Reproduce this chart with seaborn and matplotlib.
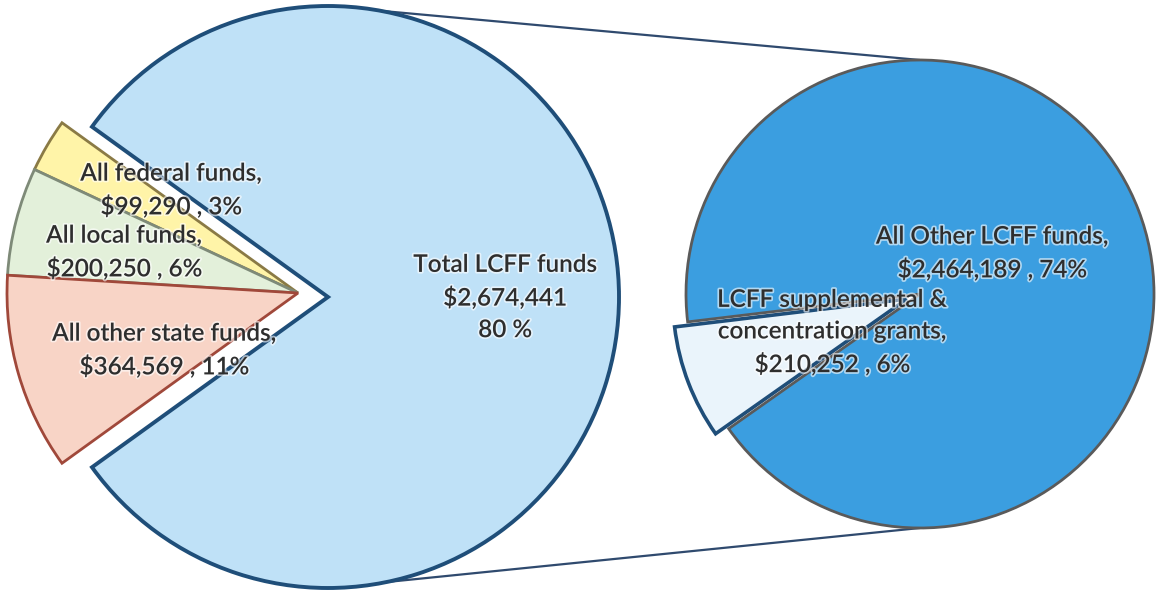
import numpy as np
import matplotlib
matplotlib.use("Agg")
import matplotlib.pyplot as plt
import matplotlib.patheffects as pe
import seaborn as sns

# first pie: all funds
main_names = ["All federal funds", "All local funds", "All other state funds", "Total LCFF funds"]
main_values = [99290, 200250, 364569, 2674441]
main_colors = ["#FFF4A8", "#E3F0DA", "#F8D4C6", "#BFE1F7"]
main_edges = ["#8A7A45", "#7E8A78", "#A0483A", "#1F4E79"]

# second pie: breakdown of LCFF funds
lcff_names = ["LCFF supplemental &\nconcentration grants", "All Other LCFF funds"]
lcff_values = [210252, 2464189]
lcff_colors = ["#EAF4FB", "#3B9EE0"]
lcff_edges = ["#1F4E79", "#5A5A5A"]

TEXT = "#2E2E2E"


def main():
    sns.set_theme(style="white")
    plt.rcParams["font.family"] = ["Lato", "DejaVu Sans"]

    total = sum(main_values)
    pct = [round(100 * v / total) for v in main_values]

    fig = plt.figure(figsize=(11.57, 5.93), dpi=100)
    ax = fig.add_axes([0, 0, 1, 1])

    c1, r1 = (328, 296), 291
    c2, r2 = (920, 299), 234

    small_share = sum(main_values[:3]) / total * 360
    wedges, _ = ax.pie(main_values, colors=main_colors, startangle=180 - small_share / 2,
                       counterclock=True, center=c1, radius=r1, frame=True,
                       wedgeprops=dict(linewidth=2))
    for w, ec in zip(wedges, main_edges):
        w.set_edgecolor(ec)
    wedges[3].set_linewidth(2.8)
    # the "other" group is pulled out to the left as one block
    for w in wedges[:3]:
        w.set_center((c1[0] - 30, c1[1] + 4))

    supp_share = lcff_values[0] / sum(lcff_values) * 360
    wedges2, _ = ax.pie(lcff_values, colors=lcff_colors, startangle=201 - supp_share / 2,
                        counterclock=True, center=c2, radius=r2, frame=True,
                        explode=[14, 0], wedgeprops=dict(linewidth=2))
    for w, ec in zip(wedges2, lcff_edges):
        w.set_edgecolor(ec)
    wedges2[0].set_linewidth(2.6)

    # connector lines between the two pies
    ax.plot([c1[0], c2[0]], [c1[1] + r1, c2[1] + r2], color="#2F4A6E", lw=1.6, zorder=0)
    ax.plot([c1[0], c2[0]], [c1[1] - r1, c2[1] - r2], color="#2F4A6E", lw=1.6, zorder=0)

    fs = 17.5
    kw = dict(ha="center", va="center", fontsize=fs, color=TEXT, linespacing=1.45,
              fontweight="semibold",
              path_effects=[pe.withStroke(linewidth=2.5, foreground="white", alpha=0.6)])
    ax.text(171, 593 - 190, f"{main_names[0]},\n${main_values[0]:,} , {pct[0]}%", **kw)
    ax.text(124, 593 - 252, f"{main_names[1]},\n${main_values[1]:,} , {pct[1]}%", **kw)
    ax.text(164, 593 - 350, f"{main_names[2]},\n${main_values[2]:,} , {pct[2]}%", **kw)
    ax.text(505, 593 - 297, f"{main_names[3]}\n${main_values[3]:,}\n{pct[3]} %", **kw)

    lp = [round(100 * v / total) for v in lcff_values]
    ax.text(832, 593 - 332, f"{lcff_names[0]},\n${lcff_values[0]:,} , {lp[0]}%", **kw)
    ax.text(992, 593 - 253, f"{lcff_names[1]},\n${lcff_values[1]:,} , {lp[1]}%", **kw)

    ax.set_xlim(0, 1157)
    ax.set_ylim(0, 593)
    ax.set_aspect("equal")
    ax.axis("off")

    fig.savefig("out.png", dpi=100, facecolor="white")


if __name__ == "__main__":
    main()
